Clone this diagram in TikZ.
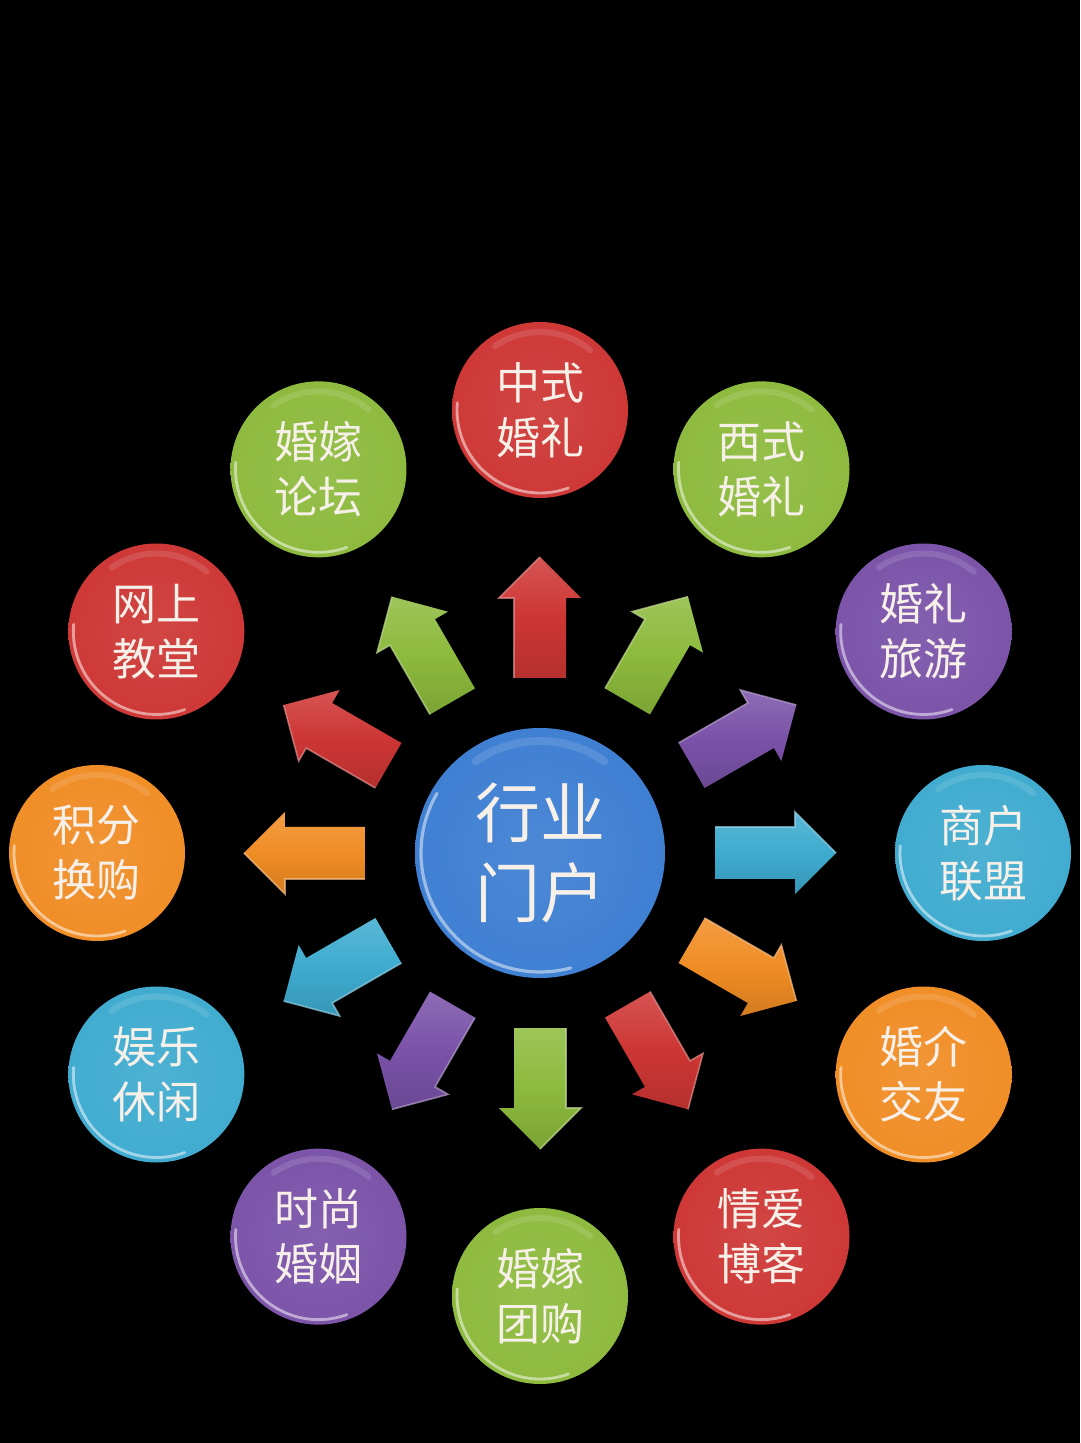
\documentclass[tikz,border=0pt]{standalone}
\usepackage{fontspec}
\newfontfamily\cjk{Noto Sans CJK SC}
\definecolor{cred}{HTML}{CD3634}
\definecolor{cgreen}{HTML}{8CBA3C}
\definecolor{cpurple}{HTML}{7A52A8}
\definecolor{ccyan}{HTML}{3EABCF}
\definecolor{corange}{HTML}{F08C24}
\definecolor{cblue}{HTML}{3D7ED2}
\definecolor{txt}{HTML}{F6F0E8}
\newcommand\mkball[1]{\pgfdeclareradialshading{ball#1}{\pgfpoint{0bp}{0bp}}{color(0bp)=(#1!92!white); color(30bp)=(#1); color(44bp)=(#1!94!black); color(48bp)=(#1!78!black); color(50bp)=(#1!60!black)}}
\mkball{cred}\mkball{cgreen}\mkball{cpurple}\mkball{ccyan}\mkball{corange}\mkball{cblue}
\begin{document}
\begin{tikzpicture}[x=0.5pt,y=0.5pt,
  ball/.style={circle, minimum size=88pt, inner sep=0pt, outer sep=0pt, text=txt, align=center,
    font=\cjk\fontsize{22}{27.5}\selectfont, shade, shading=ball#1},
  hub/.style={circle, minimum size=125pt, inner sep=0pt, outer sep=0pt, text=txt, align=center,
    font=\cjk\fontsize{32.5}{40}\selectfont, shade, shading=ballcblue}]
\fill[black] (-540,-590) rectangle (540,853);
\useasboundingbox (-540,-590) rectangle (540,853);
\node[hub] (c) at (0,0) {行业\\门户};
\draw[line width=1.6pt, cblue!40!white, opacity=.8, line cap=round] ([shift={(150:119)}]c.center) arc[start angle=150, end angle=285, radius=119];
\draw[line width=4pt, white, opacity=.12, line cap=round] ([shift={(55:112)}]c.center) arc[start angle=55, end angle=125, radius=112];
\foreach \a/\n/\c/\t in {90/o1/cred/中式\\婚礼, 60/o2/cgreen/西式\\婚礼, 30/o3/cpurple/婚礼\\旅游,
  0/o4/ccyan/商户\\联盟, -30/o5/corange/婚介\\交友, -60/o6/cred/情爱\\博客,
  -90/o7/cgreen/婚嫁\\团购, -120/o8/cpurple/时尚\\婚姻, -150/o9/ccyan/娱乐\\休闲,
  180/o10/corange/积分\\换购, 150/o11/cred/网上\\教堂, 120/o12/cgreen/婚嫁\\论坛}{
  \node[ball=\c] (\n) at (\a:443) {\t};
  \draw[line width=1.4pt, \c!40!white, opacity=.85, line cap=round] ([shift={(175:83)}]\n.center) arc[start angle=175, end angle=290, radius=83];
  \draw[line width=3pt, white, opacity=.12, line cap=round] ([shift={(50:78)}]\n.center) arc[start angle=50, end angle=125, radius=78];
  \begin{scope}[shift={(c.center)}, rotate=\a]
    \shade[top color=\c!85!white, bottom color=\c!88!black, middle color=\c]
      (175,-26) -- (255,-26) -- (255,-41) -- (296,0) -- (255,41) -- (255,26) -- (175,26) -- cycle;
    \draw[\c!55!white, line width=0.8pt, opacity=.7] (175,26) -- (255,26) -- (255,41) -- (296,0);
  \end{scope}
}
\end{tikzpicture}
\end{document}
